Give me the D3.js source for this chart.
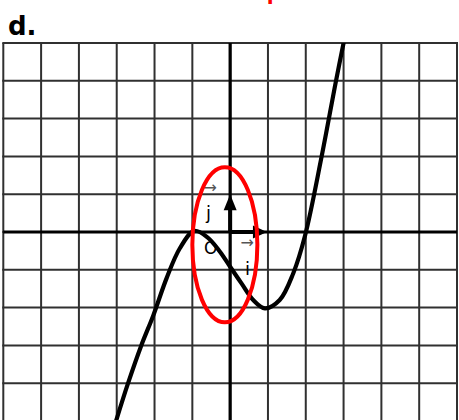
<!DOCTYPE html>
<html><head><meta charset="utf-8">
<script src="https://cdn.jsdelivr.net/npm/d3@7"></script>
<style>html,body{margin:0;padding:0;background:#fff;overflow:hidden}</style>
</head><body>
<svg id="c" width="459" height="420"></svg>
<script>
// Data (math units of the repère)
const gridX = [-6,-5,-4,-3,-2,-1,0,1,2,3,4,5,6];
const gridY = [5,4,3,2,1,0,-1,-2,-3,-4,-5];
const curveX = [-3.08,-2.7,-2.35,-2.03,-1.68,-1.33,-0.95,-0.6,-0.27,0.0,0.3,0.61,0.92,1.31,1.67,1.98,2.42,2.8,3.04];
const curveY = [-5.2,-4.0,-3.0,-2.2,-1.22,-0.43,0.03,-0.14,-0.52,-0.92,-1.36,-1.8,-2.02,-1.8,-1.09,-0.1,2.0,4.0,5.2];
const labels = {title:"Courbe et repère", part:"d.", origin:"O", i:"i", j:"j"};

const svg = d3.select("#c");
const x = d3.scaleLinear().domain([-6,6]).range([3.3,457]);
const y = d3.scaleLinear().domain([5,-5]).range([43,421]);

// title (cut off at top, as in the reference)
svg.append("text").attr("x",222).attr("y",-0.5).attr("text-anchor","middle")
  .attr("font-family","DejaVu Sans").attr("font-weight","bold").attr("font-size",20)
  .attr("fill","#ff0000").text(labels.title);
svg.append("text").attr("x",8).attr("y",34.5)
  .attr("font-family","DejaVu Sans").attr("font-weight","bold").attr("font-size",26)
  .attr("fill","#000").text(labels.part);

// grid
const g = svg.append("g").attr("stroke","#303030").attr("stroke-width",2);
g.selectAll("line.v").data(gridX).join("line").attr("class","v")
  .attr("x1",d=>x(d)).attr("x2",d=>x(d)).attr("y1",y(5)).attr("y2",430);
g.selectAll("line.h").data(gridY).join("line").attr("class","h")
  .attr("x1",x(-6)-1).attr("x2",x(6)+1).attr("y1",d=>y(d)).attr("y2",d=>y(d));

// axes
svg.append("line").attr("x1",x(-6)).attr("x2",x(6)).attr("y1",y(0)).attr("y2",y(0))
  .attr("stroke","#000").attr("stroke-width",3.2);
svg.append("line").attr("x1",x(0)).attr("x2",x(0)).attr("y1",y(5)).attr("y2",430)
  .attr("stroke","#000").attr("stroke-width",3.2);

// unit vectors
svg.append("line").attr("x1",x(0)).attr("x2",x(0)).attr("y1",y(0)).attr("y2",y(1)+10)
  .attr("stroke","#000").attr("stroke-width",4);
svg.append("path").attr("fill","#000")
  .attr("d",`M${x(0)},${y(1)} L${x(0)-6.5},${y(1)+16} L${x(0)+6.5},${y(1)+16}Z`);
svg.append("line").attr("x1",x(0)).attr("x2",x(1)-10).attr("y1",y(0)).attr("y2",y(0))
  .attr("stroke","#000").attr("stroke-width",4);
svg.append("path").attr("fill","#000")
  .attr("d",`M${x(1)-1},${y(0)} L${x(1)-15},${y(0)-6.5} L${x(1)-15},${y(0)+6.5}Z`);

// curve
svg.append("clipPath").attr("id","clp").append("rect")
  .attr("x",x(-6)).attr("y",y(5)).attr("width",x(6)-x(-6)).attr("height",420);
const line = d3.line().x(d=>x(d[0])).y(d=>y(d[1])).curve(d3.curveCatmullRom.alpha(0.5));
svg.append("path").datum(d3.zip(curveX,curveY)).attr("d",line)
  .attr("clip-path","url(#clp)")
  .attr("fill","none").attr("stroke","#000").attr("stroke-width",4.2).attr("stroke-linecap","round");

// labels
const lf = "DejaVu Sans";
svg.append("text").attr("x",206).attr("y",219).attr("font-family",lf).attr("font-size",18).text(labels.j);
svg.append("text").attr("x",203.5).attr("y",193).attr("font-family",lf).attr("font-size",16).attr("fill","#555").text("→");
svg.append("text").attr("x",204).attr("y",254).attr("font-family",lf).attr("font-size",17).text(labels.origin);
svg.append("text").attr("x",245).attr("y",275).attr("font-family",lf).attr("font-size",18).text(labels.i);
svg.append("text").attr("x",240.5).attr("y",248).attr("font-family",lf).attr("font-size",16).attr("fill","#555").text("→");

// red ellipse
svg.append("ellipse").attr("cx",x(-0.14)).attr("cy",y(-0.34))
  .attr("rx",x(0.86)-x(0)).attr("ry",y(-2.05)-y(0))
  .attr("fill","none").attr("stroke","#ff0000").attr("stroke-width",4);
</script>
</body></html>
